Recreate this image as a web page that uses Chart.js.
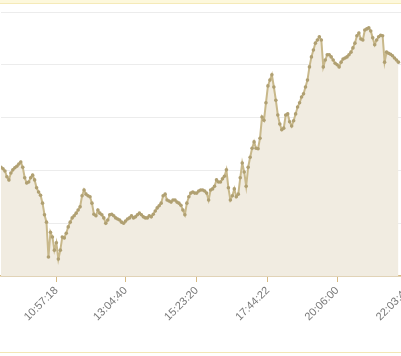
<!DOCTYPE html>
<html>
<head>
<meta charset="utf-8">
<script src="https://cdn.jsdelivr.net/npm/chart.js@4.4.1/dist/chart.umd.min.js"></script>
<style>
    body { margin: 0; overflow: hidden; background: #fff; width: 401px; height: 356px; position: relative; }
    #topbar { position: absolute; left: 0; top: 0; width: 401px; height: 3px; background: #fdf8dc; border-bottom: 1px solid #f5eab8; z-index: 2; }
    #bottomline { position: absolute; left: 0; top: 352px; width: 401px; height: 1px; background: #f3e6b6; }
    #wrap { position: absolute; left: -3px; top: 0; width: 443px; height: 352px; }
</style>
</head>
<body>
<div id="topbar"></div>
<div id="wrap"><canvas id="price-chart"></canvas></div>
<div id="bottomline"></div>
<script>
// tick labels (every ~36th sample)
var tickLabels = ['10:57:18', '13:04:40', '15:23:20', '17:44:22', '20:06:00', '22:03:40'];
var tickAt = [28, 63, 99, 135, 170, 206];

var prices = [
    20.6, 20.3, 19.9, 18.8, 18.2, 19.5, 20.1, 20.5, 20.8, 21.2,
    21.6, 20.6, 18.6, 17.6, 17.8, 18.6, 19.1, 18.2, 16.7, 15.9,
    15.3, 13.8, 11.6, 10.2, 3.6, 8.3, 7.4, 4.9, 6.3, 3.2,
    4.9, 7.4, 7.2, 8.1, 9.3, 10.2, 11.0, 11.4, 11.9, 12.5,
    13.1, 15.2, 16.3, 15.5, 15.2, 15.0, 13.8, 11.7, 11.4, 12.5,
    11.9, 11.6, 11.0, 10.0, 10.6, 11.6, 11.7, 11.4, 11.0, 10.8,
    10.6, 10.2, 10.0, 10.4, 10.8, 11.0, 11.4, 11.0, 11.2, 11.6,
    11.9, 11.6, 11.2, 11.0, 11.0, 11.4, 11.2, 11.7, 12.3, 12.9,
    13.3, 13.8, 15.2, 15.5, 14.4, 14.2, 14.0, 14.4, 14.4, 14.0,
    13.8, 13.4, 12.5, 11.6, 13.8, 15.0, 15.7, 15.9, 15.7, 15.7,
    16.1, 16.3, 16.3, 16.1, 15.7, 14.4, 16.3, 16.5, 17.0, 18.2,
    17.8, 17.8, 18.4, 18.9, 20.1, 16.7, 14.4, 15.2, 16.5, 15.0,
    15.5, 18.6, 21.4, 19.7, 17.0, 20.6, 22.5, 24.2, 25.4, 24.2,
    24.1, 26.1, 30.1, 29.5, 32.8, 36.0, 37.1, 38.1, 35.8, 33.3,
    30.5, 28.8, 27.7, 28.0, 30.5, 30.7, 29.2, 28.4, 29.4, 30.7,
    32.0, 32.8, 33.9, 34.5, 35.8, 37.1, 39.6, 41.5, 42.8, 44.1,
    44.7, 45.3, 44.7, 39.6, 40.9, 41.9, 41.9, 41.5, 40.9, 40.3,
    40.0, 39.6, 40.5, 41.1, 41.3, 41.5, 41.9, 42.4, 43.2, 44.1,
    45.5, 46.0, 44.9, 44.7, 46.6, 46.8, 47.0, 46.4, 45.1, 43.8,
    44.7, 45.3, 45.6, 45.5, 40.5, 42.4, 42.2, 42.0, 41.7, 41.3,
    40.9, 40.5
];

var points = prices.map((v, i) => ({ x: i, y: v }));

var layout = {
    type: 'line',
    data: {
        datasets: [{
            label: 'price',
            data: points,
            borderColor: 'rgb(200, 184, 138)',
            borderWidth: 2,
            backgroundColor: 'rgb(241, 236, 225)',
            fill: 'origin',
            tension: 0,
            pointRadius: 1.8,
            pointBorderWidth: 0,
            pointBackgroundColor: 'rgb(176, 160, 114)',
        }]
    },
    options: {
        responsive: true,
        maintainAspectRatio: false,
        animation: false,
        layout: {
            padding: { top: 12, left: 0, right: 0, bottom: 0 }
        },
        plugins: {
            legend: { display: false },
            tooltip: { enabled: false },
        },
        scales: {
            x: {
                type: 'linear',
                min: 0,
                max: 220,
                afterBuildTicks: (scale) => {
                    scale.ticks = tickAt.map(v => ({ value: v }));
                },
                afterFit: (scale) => {
                    scale.height = 76;
                },
                grid: {
                    drawOnChartArea: false,
                    drawTicks: true,
                    tickLength: 6,
                    color: 'rgb(214, 186, 130)',
                },
                border: {
                    color: 'rgb(214, 186, 130)',
                    width: 1.5,
                },
                ticks: {
                    autoSkip: false,
                    maxRotation: 45,
                    minRotation: 45,
                    color: '#777',
                    padding: 2,
                    font: { family: 'Liberation Sans, Arial', size: 11 },
                    callback: (value, index) => tickLabels[index],
                }
            },
            y: {
                min: 0,
                max: 50,
                ticks: {
                    display: false,
                    stepSize: 10,
                },
                grid: {
                    color: '#ececec',
                    drawTicks: false,
                },
                border: { display: false },
            },
        },
    },
}

const priceChart = document.getElementById('price-chart');
new Chart(priceChart, layout);
</script>
</body>
</html>
